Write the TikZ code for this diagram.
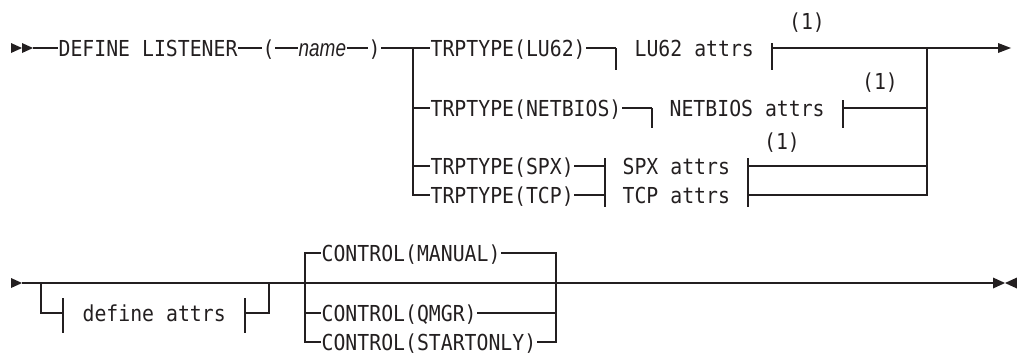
\documentclass[tikz,border=0pt]{standalone}
\usepackage{fontspec}
\newfontfamily\diamono[FakeStretch=0.9]{DejaVu Sans Mono}
\newfontfamily\diasans[FakeStretch=0.79]{Liberation Sans}
\definecolor{ink}{HTML}{231F20}
\begin{document}
\begin{tikzpicture}[x=1pt,y=-1pt,line width=1.3pt,color=ink,
  kw/.style={font=\diamono\fontsize{22}{22}\selectfont,text=ink,inner sep=0pt,
             text height=16pt,text depth=0pt,anchor=west},
  var/.style={kw,font=\diasans\itshape\fontsize{24}{24}\selectfont},
  note/.style={kw,anchor=center},
  tipfill/.style={fill=ink,draw=none}]
\useasboundingbox (0,0) rectangle (1017,354);

% ---------- row 1 ----------
\fill[tipfill] (11,43) -- (22,48) -- (11,53) -- cycle;
\fill[tipfill] (22,43) -- (33,48) -- (22,53) -- cycle;
\coordinate (s1) at (33,48);
\node[kw]  (def) at (58,48)  {DEFINE LISTENER};
\node[kw]  (lp)  at (262,48) {(};
\node[var] (nm)  at (298,48) {name};
\node[kw]  (rp)  at (368,48) {)};
\coordinate (j1) at (413,48);
\coordinate (j2) at (927,48);
\coordinate (e1) at (999,48);

\node[kw] (lu)  at (430,48)  {TRPTYPE(LU62)};
\node[kw] (nb)  at (430,108) {TRPTYPE(NETBIOS)};
\node[kw] (spx) at (430,166) {TRPTYPE(SPX)};
\node[kw] (tcp) at (430,195) {TRPTYPE(TCP)};

\node[kw] (lua)  at (634,48)  {LU62 attrs};
\node[kw] (nba)  at (669,108) {NETBIOS attrs};
\node[kw] (spxa) at (622,166) {SPX attrs};
\node[kw] (tcpa) at (622,195) {TCP attrs};

\node[note] (n1) at (807,21)  {(1)};
\node[note] (n2) at (880,81)  {(1)};
\node[note] (n3) at (782,141) {(1)};

% bar coordinates
\coordinate (lul) at (616,48);  \coordinate (lur) at (772,48);
\coordinate (nbl) at (652,108); \coordinate (nbr) at (843,108);
\coordinate (spl) at (605,166); \coordinate (spr) at (748,166);
\coordinate (tcl) at (605,195); \coordinate (tcr) at (748,195);

\draw (s1) -- (def);
\draw (def) -- (lp);
\draw (lp) -- (nm);
\draw (nm) -- (rp);
\draw (rp) -- (j1) -- (lu);
\draw (j1) -- (j1 |- tcp) -- (tcp.west);
\draw (j1 |- nb) -- (nb.west);
\draw (j1 |- spx) -- (spx.west);

\draw (lu) -- (lul);
\draw (lul) -- ++(0,22);
\draw (lur) ++(0,-5) -- ++(0,27);
\draw (lur) -- (j2) -- (e1);
\fill[tipfill] (998,43) -- (1011,48) -- (998,53) -- cycle;

\draw (nb) -- (nbl);
\draw (nbl) -- ++(0,20);
\draw (nbr) ++(0,-8) -- ++(0,28);
\draw (nbr) -- (j2 |- nbr);

\draw (spx) -- (spl);
\draw (tcp) -- (tcl);
\draw (605,158) -- (605,207);
\draw (748,158) -- (748,207);
\draw (spr) -- (j2 |- spr);
\draw (tcr) -- (j2 |- tcr) -- (j2);

% ---------- row 2 ----------
\fill[tipfill] (11,278) -- (22,283) -- (11,288) -- cycle;
\coordinate (s2) at (22,283);
\coordinate (e2) at (993,283);
\draw (s2) -- (e2);
\fill[tipfill] (993,277.5) -- (1005,283) -- (993,288.5) -- cycle;
\fill[tipfill] (1017,277.5) -- (1005,283) -- (1017,288.5) -- cycle;

\coordinate (da) at (41,283);
\coordinate (db) at (269,283);
\node[kw] (dfa) at (82,313) {define attrs};
\coordinate (dal) at (63,313);
\coordinate (dar) at (245,313);
\draw (da) |- (dal);
\draw (63,298) -- (63,333);
\draw (245,298) -- (245,333);
\draw (dar) -| (db);

\coordinate (c1) at (305,283);
\coordinate (c2) at (556,283);
\node[kw] (man) at (321,253) {CONTROL(MANUAL)};
\node[kw] (qm)  at (321,313) {CONTROL(QMGR)};
\node[kw] (so)  at (321,342) {CONTROL(STARTONLY)};
\draw (man.west) -- (c1 |- man) -- (c1 |- so) -- (so.west);
\draw (c1 |- qm) -- (qm.west);
\draw (man.east) -- (c2 |- man) -- (c2 |- so) -- (so.east);
\draw (qm.east) -- (c2 |- qm);
\end{tikzpicture}
\end{document}
